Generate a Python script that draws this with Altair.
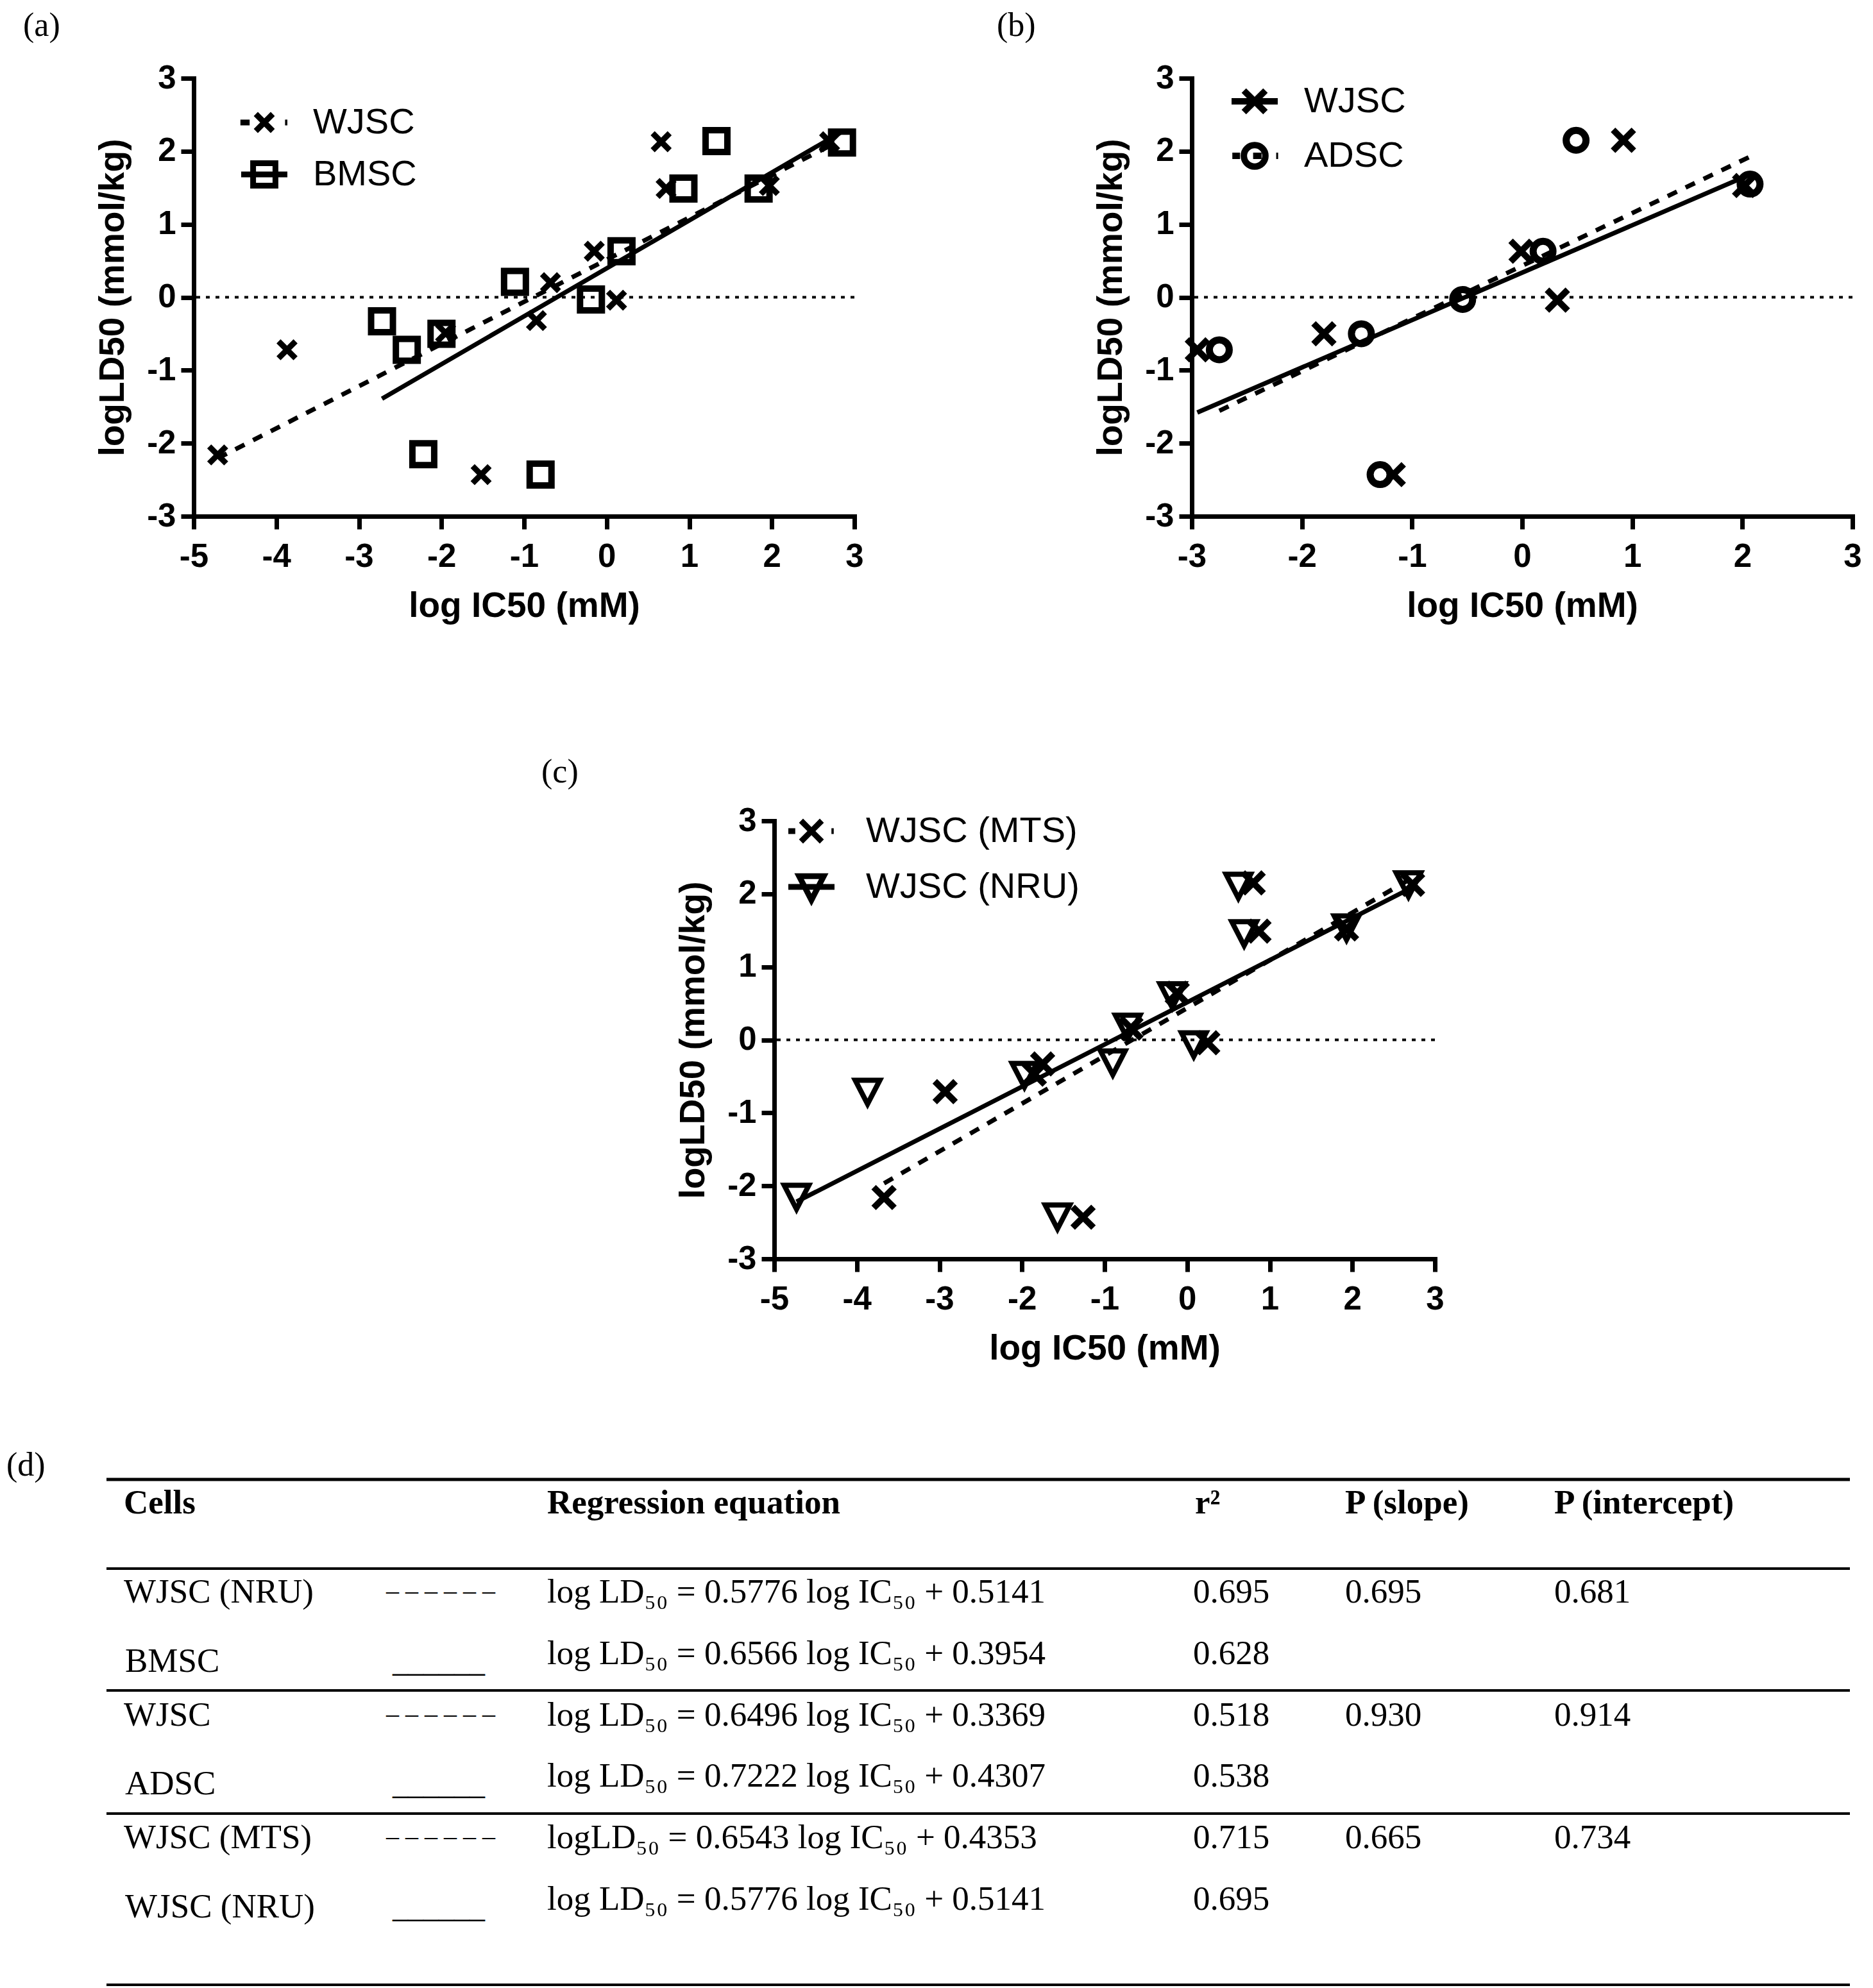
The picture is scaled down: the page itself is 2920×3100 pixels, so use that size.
import altair as alt
import pandas as pd

# ---------------- data ----------------
# (a) WJSC (NRU assay) and BMSC
a_wjsc_x = [-4.71, -3.87, -1.95, -1.52, -0.85, -0.68, -0.15, 0.12, 0.66, 0.72, 1.97, 2.70]
a_wjsc_y = [-2.16, -0.72, -0.49, -2.43, -0.32, 0.20, 0.63, -0.04, 2.13, 1.49, 1.53, 2.13]
a_bmsc_x = [-2.72, -2.42, -2.22, -2.00, -1.11, -0.80, -0.19, 0.18, 0.93, 1.33, 1.84, 2.85]
a_bmsc_y = [-0.33, -0.72, -2.15, -0.50, 0.21, -2.43, -0.03, 0.63, 1.49, 2.14, 1.49, 2.12]

# (b) WJSC and ADSC
b_wjsc_x = [-2.95, -1.80, -1.17, -0.01, 0.32, 0.92, 2.02]
b_wjsc_y = [-0.72, -0.50, -2.43, 0.63, -0.04, 2.15, 1.53]
b_adsc_x = [-2.75, -1.46, -1.29, -0.54, 0.19, 0.49, 2.07]
b_adsc_y = [-0.72, -0.50, -2.43, -0.03, 0.63, 2.15, 1.55]

# (c) WJSC (MTS) and WJSC (NRU)
c_mts_x = [-3.67, -2.93, -1.85, -1.75, -1.26, -0.68, -0.12, 0.25, 0.80, 0.87, 1.93, 2.73]
c_mts_y = [-2.16, -0.71, -0.47, -0.33, -2.43, 0.16, 0.64, -0.04, 2.15, 1.49, 1.52, 2.13]
c_nru_x = [-4.73, -3.87, -1.97, -1.57, -0.90, -0.72, -0.18, 0.08, 0.62, 0.69, 1.93, 2.68]
c_nru_y = [-2.14, -0.70, -0.47, -2.41, -0.30, 0.19, 0.62, -0.05, 2.12, 1.47, 1.55, 2.14]

# regression lines (slope, intercept) as given in table (d)
fit_nru = (0.5776, 0.5141)
fit_bmsc = (0.6566, 0.3954)
fit_wjsc = (0.6496, 0.3369)
fit_adsc = (0.7222, 0.4307)
fit_mts = (0.6543, 0.4353)

# table (d)
headers = ["Cells", "Regression equation", "r²", "P (slope)", "P (intercept)"]
cells = ["WJSC (NRU)", "BMSC", "WJSC", "ADSC", "WJSC (MTS)", "WJSC (NRU)"]
line_marks = ["– – – – – –", "______", "– – – – – –", "______", "– – – – – –", "______"]
equations = [
    "log LD₅₀ = 0.5776 log IC₅₀ + 0.5141",
    "log LD₅₀ = 0.6566 log IC₅₀ + 0.3954",
    "log LD₅₀ = 0.6496 log IC₅₀ + 0.3369",
    "log LD₅₀ = 0.7222 log IC₅₀ + 0.4307",
    "logLD₅₀ = 0.6543 log IC₅₀ + 0.4353",
    "log LD₅₀ = 0.5776 log IC₅₀ + 0.5141",
]
r2_vals = ["0.695", "0.628", "0.518", "0.538", "0.715", "0.695"]
p_slope = ["0.695", "", "0.930", "", "0.665", ""]
p_intercept = ["0.681", "", "0.914", "", "0.734", ""]

# ---------------- styling ----------------
PW, PH = 1030, 683
SANS = "Liberation Sans"
SERIF = "Liberation Serif"
MINUS = "datum.value < 0 ? '-' + (-datum.value) : '' + datum.value"
X_PATH = "M-1,-1L1,1M-1,1L1,-1"
TRI_PATH = "M-1.6,-1.4L1.6,-1.4L0,1.7Z"
NOVIEW = alt.ViewBackground(stroke="transparent", strokeWidth=0, fill="transparent")

axis_common = dict(
    grid=False, domainColor="black", domainWidth=7, domainCap="square",
    tickColor="black", tickWidth=7, tickSize=20, tickCap="butt",
    labelFont=SANS, labelFontWeight="bold", labelFontSize=51, labelColor="black",
    labelFlush=False, labelOverlap=False, labelExpr=MINUS,
    titleFont=SANS, titleFontWeight="bold", titleFontSize=55, titleColor="black",
)


def xaxis(vals):
    return alt.Axis(values=vals, title="log IC50 (mM)", labelPadding=18, titlePadding=25, **axis_common)


def yaxis():
    return alt.Axis(values=list(range(-3, 4)), title="logLD50 (mmol/kg)", labelPadding=8,
                    titlePadding=24, **axis_common)


def panel(tag, tag_pos, xdom, series, legend_field, legend_paths, legend_sw, legend_pos):
    xvals = list(range(xdom[0], xdom[1] + 1))
    xs = alt.Scale(domain=xdom, nice=False, zero=False)
    ys = alt.Scale(domain=[-3, 3], nice=False, zero=False)
    X = lambda: alt.X("x:Q", scale=xs, axis=xaxis(xvals))
    Y = lambda: alt.Y("y:Q", scale=ys, axis=yaxis())
    layers = [
        alt.Chart(pd.DataFrame({"y": [0]})).mark_rule(
            color="black", strokeWidth=4, strokeDash=[6, 9]
        ).encode(y=Y())
    ]
    names = []
    for s in series:
        names.append(s["name"])
        lo, hi = min(s["x"]), max(s["x"])
        m, b = s["fit"]
        ldf = pd.DataFrame({"x": [lo, hi], "y": [m * lo + b, m * hi + b]})
        lkw = dict(color="black", strokeWidth=7, strokeCap="butt")
        if s["dashed"]:
            lkw["strokeDash"] = [16, 15]
        layers.append(alt.Chart(ldf).mark_line(**lkw).encode(x=X(), y=Y()))
    for s in series:
        pdf = pd.DataFrame({"x": s["x"], "y": s["y"]})
        layers.append(
            alt.Chart(pdf).mark_point(
                shape=s["shape"], size=s["size"], strokeWidth=s["sw"], color="black",
                filled=False, opacity=1, strokeCap="butt"
            ).encode(x=X(), y=Y())
        )
    # legend (real Vega legend, line + symbol glyphs)
    lx, ly, loff, rpad = legend_pos
    layers.append(
        alt.Chart(pd.DataFrame({legend_field: names})).transform_filter("false").mark_point(
            color="black", filled=False, opacity=1, size=576, strokeWidth=legend_sw
        ).encode(
            shape=alt.Shape(
                f"{legend_field}:N",
                scale=alt.Scale(domain=names, range=legend_paths),
                legend=alt.Legend(
                    title=None, orient="none", legendX=lx, legendY=ly, padding=0,
                    labelFont=SANS, labelFontSize=56, labelColor="black", labelLimit=900,
                    labelOffset=loff, rowPadding=rpad, symbolSize=576,
                    symbolStrokeWidth=legend_sw, symbolStrokeColor="black",
                    symbolFillColor="transparent", symbolOpacity=1,
                ),
            )
        )
    )
    layers.append(
        alt.Chart(pd.DataFrame({"t": [tag]})).mark_text(
            align="left", baseline="alphabetic", font=SERIF, fontSize=52, color="black"
        ).encode(text="t:N", x=alt.value(tag_pos[0]), y=alt.value(tag_pos[1]))
    )
    return alt.layer(*layers).properties(width=PW, height=PH, view=NOVIEW)


pa = panel(
    "(a)", (-266, -66), [-5, 3],
    [
        dict(name="WJSC", x=a_wjsc_x, y=a_wjsc_y, fit=fit_nru, dashed=True, shape=X_PATH, size=700, sw=9),
        dict(name="BMSC", x=a_bmsc_x, y=a_bmsc_y, fit=fit_bmsc, dashed=False, shape="square", size=1156, sw=10),
    ],
    "sa",
    [
        "M-3.1,0L-1.9,0M-1.1,-1.1L1.1,1.1M-1.1,1.1L1.1,-1.1M2.7,0L3.0,0",
        "M-3,0L3,0M-1.45,-1.45L1.45,-1.45L1.45,1.45L-1.45,1.45Z",
    ],
    9, (82, 41, 48, 13),
)

pb = panel(
    "(b)", (-304, -66), [-3, 3],
    [
        dict(name="WJSC", x=b_wjsc_x, y=b_wjsc_y, fit=fit_wjsc, dashed=False, shape=X_PATH, size=1050, sw=10),
        dict(name="ADSC", x=b_adsc_x, y=b_adsc_y, fit=fit_adsc, dashed=True, shape="circle", size=961, sw=11),
    ],
    "sb",
    [
        "M-3,0L3,0M-1.4,-1.4L1.4,1.4M-1.4,1.4L1.4,-1.4",
        "M-2.9,0L-1.9,0M-1.4,0A1.4,1.4,0,1,1,1.4,0A1.4,1.4,0,1,1,-1.4,0M-0.2,0L0.9,0M2.8,0L3.05,0",
    ],
    10, (70, 8, 49, 11),
)

pc = panel(
    "(c)", (-363, -60), [-5, 3],
    [
        dict(name="WJSC (MTS)", x=c_mts_x, y=c_mts_y, fit=fit_mts, dashed=True, shape=X_PATH, size=1050, sw=10),
        dict(name="WJSC (NRU)", x=c_nru_x, y=c_nru_y, fit=fit_nru, dashed=False, shape=TRI_PATH, size=576, sw=8),
    ],
    "sc",
    [
        "M-3.0,0L-2.1,0M-1.35,-1.35L1.35,1.35M-1.35,1.35L1.35,-1.35M2.6,0L2.9,0",
        "M-3,0L3,0M-1.6,-1.4L1.6,-1.4L0,1.7Z",
    ],
    9, (30, -12, 57, 17),
)

# ---------------- table (d) ----------------
# the table view starts ROWGAP px below the (c) block; its contents are lifted by SHIFT
ROWGAP = PH + 475          # pitch between the three stacked blocks
SHIFT = 149
TW, TH = 2718, 810 - SHIFT
rows = [f"r{i}" for i in range(len(cells))]
tdf = pd.DataFrame({
    "row": rows, "cell": cells, "mark": line_marks, "eq": equations,
    "r2": r2_vals, "ps": p_slope, "pi": p_intercept,
})
row_scale = alt.Scale(domain=rows, range=[210 - SHIFT, 689 - SHIFT], padding=0)
TY = alt.Y("row:N", scale=row_scale, axis=None)
SECOND = "indexof(['r1', 'r3', 'r5'], datum.row) >= 0"   # second row of each group


def col_layer(field, xpx, size=53, dy=0, filt=None):
    ch = alt.Chart(tdf)
    if filt:
        ch = ch.transform_filter(filt)
    return ch.mark_text(
        align="left", baseline="alphabetic", font=SERIF, fontSize=size, color="black", dy=dy
    ).encode(x=alt.value(xpx), y=TY, text=f"{field}:N")


col_x = [27, 687, 1697, 1931, 2257]
tlayers = []
for h, xp in zip(headers, col_x):
    tlayers.append(
        alt.Chart(pd.DataFrame({"h": [h]})).mark_text(
            align="left", baseline="alphabetic", font=SERIF, fontSize=53,
            fontWeight="bold", color="black"
        ).encode(text="h:N", x=alt.value(xp), y=alt.value(71 - SHIFT))
    )
tlayers += [
    col_layer("cell", 27, filt=f"!({SECOND})"),
    col_layer("cell", 29, dy=12, filt=SECOND),
    col_layer("mark", 436, size=40, dy=-6, filt="indexof(datum.mark, '_') < 0"),
    col_layer("mark", 446, size=48, dy=12, filt="indexof(datum.mark, '_') >= 0"),
    col_layer("eq", 687),
    col_layer("r2", 1694),
    col_layer("ps", 1931),
    col_layer("pi", 2257),
]
for yy, w in [(18, 5), (157, 4), (347, 4), (539, 4), (806, 4)]:
    tlayers.append(
        alt.Chart(pd.DataFrame({"k": [0]})).mark_rule(color="black", strokeWidth=w).encode(
            x=alt.value(0), x2=alt.value(TW), y=alt.value(yy - SHIFT)
        )
    )
tlayers.append(
    alt.Chart(pd.DataFrame({"t": ["(d)"]})).mark_text(
        align="left", baseline="alphabetic", font=SERIF, fontSize=52, color="black"
    ).encode(text="t:N", x=alt.value(-156), y=alt.value(12 - SHIFT))
)
table = alt.layer(*tlayers).properties(width=TW, height=TH, view=NOVIEW)


def spacer(w):
    return alt.Chart(pd.DataFrame({"v": [""]})).mark_text(opacity=0).encode(
        text="v:N", x=alt.value(0), y=alt.value(0)
    ).properties(width=w, height=0, view=NOVIEW)


row1 = alt.hconcat(spacer(136), pa, spacer(526), pb, spacing=0, bounds="flush").resolve_scale(
    shape="independent").resolve_legend(shape="independent")
row2 = alt.hconcat(spacer(1041), pc, spacing=0, bounds="flush").resolve_scale(
    shape="independent").resolve_legend(shape="independent")

# nested rows count as zero height in the flush layout, so the spacing is the full row pitch
chart = alt.vconcat(
    row1, row2, table, spacing=ROWGAP, bounds="flush"
).resolve_scale(shape="independent").resolve_legend(shape="independent").properties(
    padding={"left": 2, "top": 6, "right": 0, "bottom": 0}
).configure_view(stroke=None).configure(background="white")

chart.save("out.html", embed_options={"renderer": "svg", "actions": False})
